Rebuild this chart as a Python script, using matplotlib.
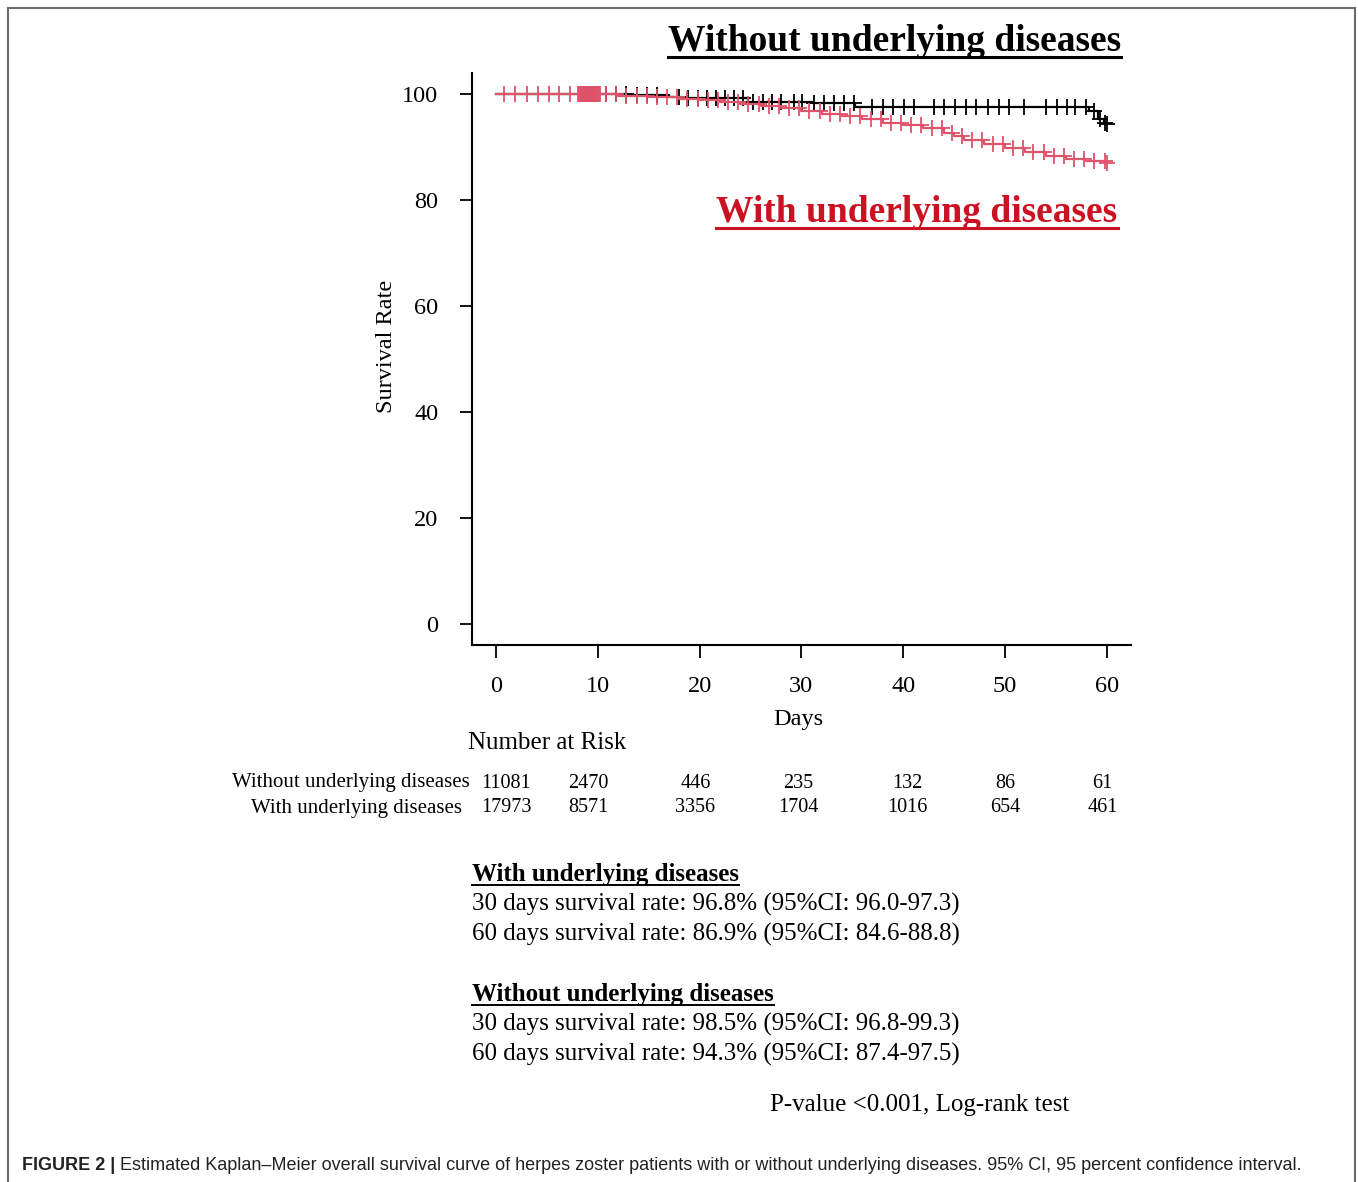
import matplotlib
matplotlib.use('Agg')
import matplotlib.pyplot as plt
from matplotlib.lines import Line2D
import numpy as np

plt.rcParams['font.family'] = 'Liberation Serif'
plt.rcParams['axes.linewidth'] = 1.5

W, H = 1358, 1182
RED = '#DF536B'
TITLE_RED = '#CC1122'

# Kaplan-Meier step curves (day, survival %)
without_t = [0, 10.5, 13.0, 17.0, 18.2, 24.8, 31.0, 35.3, 58.3, 59.2, 59.7, 60.0]
without_s = [100, 99.9, 99.7, 99.5, 99.25, 98.5, 98.2, 97.5, 96.7, 95.2, 94.5, 94.3]

with_t = [0, 8, 12, 15, 18, 20, 22, 24, 26, 28, 30, 32, 34, 36, 38, 40, 42, 44, 45,
          46, 48, 50, 52, 54, 56, 58, 60]
with_s = [100, 99.9, 99.6, 99.4, 99.1, 98.8, 98.5, 98.1, 97.7, 97.3, 96.8, 96.3,
          95.8, 95.2, 94.6, 94.1, 93.5, 92.6, 92.0, 91.3, 90.5, 89.7, 89.0, 88.3,
          87.8, 87.3, 86.9]

# censoring times
without_cens = [8.6, 8.8, 9.0, 9.2, 9.4, 9.6, 10.8, 11.8, 12.8, 13.8, 14.8, 15.8,
                18.0, 18.9, 19.8, 20.7, 21.6, 22.5, 23.4, 24.3, 25.2, 26.2, 27.1,
                28.0, 29.3, 30.1, 31.2, 32.2, 33.2, 34.2, 35.2, 36.9, 38.0, 39.0,
                40.1, 41.1, 43.0, 44.0, 45.1, 46.2, 47.2, 48.3, 49.4, 50.4, 51.9,
                54.0, 55.1, 56.1, 56.9, 58.0, 58.8, 59.4, 59.8, 60.0]
with_cens = [0.8, 1.9, 3.0, 4.1, 5.2, 6.2, 7.3,
             8.0, 8.1, 8.2, 8.3, 8.4, 8.5, 8.6, 8.7, 8.8, 8.9, 9.0, 9.1, 9.2,
             9.3, 9.4, 9.5, 9.6, 9.7, 9.8, 9.9, 10.0, 10.1, 10.2,
             10.8, 11.8, 12.8, 13.8, 14.8, 15.8, 16.8, 17.8, 18.8, 19.8, 20.8,
             21.8, 22.8, 23.8, 24.8, 25.8, 26.8, 27.8, 28.8, 29.8, 30.8, 31.8,
             32.8, 33.8, 34.8, 35.8, 36.8, 37.8, 38.8, 39.8, 40.8, 41.8, 42.8,
             43.8, 44.8, 45.8, 46.8, 47.8, 48.8, 49.8, 50.8, 51.8, 52.8, 53.8,
             54.8, 55.8, 56.8, 57.8, 58.8, 59.8, 60.0]

# number at risk table
risk_days = [0, 10, 20, 30, 40, 50, 60]
risk_xpos = [1.0, 9.1, 19.6, 29.7, 40.4, 50.0, 59.6]
risk_without = [11081, 2470, 446, 235, 132, 86, 61]
risk_with = [17973, 8571, 3356, 1704, 1016, 654, 461]

summary_with = ['30 days survival rate: 96.8% (95%CI: 96.0-97.3)',
                '60 days survival rate: 86.9% (95%CI: 84.6-88.8)']
summary_without = ['30 days survival rate: 98.5% (95%CI: 96.8-99.3)',
                   '60 days survival rate: 94.3% (95%CI: 87.4-97.5)']


def step_value(times, surv, x):
    idx = np.searchsorted(times, x, side='right') - 1
    return np.asarray(surv)[idx]


def fx(px):
    return px / W


def fy(py):
    return 1 - py / H


fig = plt.figure(figsize=(W / 100, H / 100), dpi=100)
ax = fig.add_axes([fx(471.7), fy(645), fx(1131) - fx(471.7), fy(72.7) - fy(645)])

ax.step(without_t, without_s, where='post', color='black', lw=1.6, zorder=3)
ax.step(with_t, with_s, where='post', color=RED, lw=1.6, zorder=4)
ax.plot(without_cens, step_value(without_t, without_s, without_cens), ls='none',
        marker='+', ms=11.5, mew=1.3, color='black', zorder=3)
ax.plot(with_cens, step_value(with_t, with_s, with_cens), ls='none',
        marker='+', ms=11.5, mew=1.3, color=RED, zorder=4)

ax.set_xlim(-2.4, 62.4)
ax.set_ylim(-4, 104)
ax.set_xticks(risk_days)
ax.set_yticks([0, 20, 40, 60, 80, 100])
ax.spines['top'].set_visible(False)
ax.spines['right'].set_visible(False)
ax.tick_params(direction='out', length=9, width=1.3, labelsize=17.5, pad=13)
ax.tick_params(axis='y', pad=15)

fig.text(fx(798), fy(720), 'Days', ha='center', va='center', fontsize=17.5)
fig.text(fx(387), fy(346), 'Survival Rate', ha='center', va='center',
         rotation=90, fontsize=17.5)

# curve titles
fig.canvas.draw()
renderer = fig.canvas.get_renderer()


def underlined(x, y_base, s, ha, size, color, weight='bold', gap=6, lw=1.6):
    t = fig.text(fx(x), fy(y_base), s, ha=ha, va='baseline', fontsize=size,
                 color=color, fontweight=weight)
    bb = t.get_window_extent(renderer=renderer)
    yl = fy(y_base + gap)
    fig.add_artist(Line2D([bb.x0 / W, bb.x1 / W], [yl, yl], color=color, lw=lw))
    return t


underlined(894.5, 51, 'Without underlying diseases', 'center', 27, 'black', lw=2.2)
underlined(917, 222, 'With underlying diseases', 'center', 27, TITLE_RED, lw=2.2)

# number at risk
fig.text(fx(468), fy(743), 'Number at Risk', ha='left', va='center', fontsize=18)
fig.text(fx(470), fy(783), 'Without underlying diseases', ha='right', va='center',
         fontsize=15)
fig.text(fx(462), fy(808), 'With underlying diseases', ha='right', va='center',
         fontsize=15)
for xp, a, b in zip(risk_xpos, risk_without, risk_with):
    xd = fx(ax.transData.transform((xp, 0))[0])
    fig.text(xd, fy(783), str(a), ha='center', va='center', fontsize=14.5)
    fig.text(xd, fy(808), str(b), ha='center', va='center', fontsize=14.5)

# survival summaries
underlined(472, 881, 'With underlying diseases', 'left', 18, 'black', gap=4, lw=1.4)
for i, s in enumerate(summary_with):
    fig.text(fx(472), fy(904 + 30 * i), s, ha='left', va='center', fontsize=18)
underlined(472, 1001, 'Without underlying diseases', 'left', 18, 'black', gap=4, lw=1.4)
for i, s in enumerate(summary_without):
    fig.text(fx(472), fy(1024 + 30 * i), s, ha='left', va='center', fontsize=18)
fig.text(fx(770), fy(1105), 'P-value <0.001, Log-rank test', ha='left',
         va='center', fontsize=18)

# frame around the figure panel
frame_col = '#6b6b6b'
fig.add_artist(Line2D([fx(8), fx(1355)], [fy(8), fy(8)], color=frame_col, lw=1.5))
fig.add_artist(Line2D([fx(8), fx(8)], [fy(8), 0], color=frame_col, lw=1.5))
fig.add_artist(Line2D([fx(1355), fx(1355)], [fy(8), 0], color=frame_col, lw=1.5))

# caption
cap_font = ['Liberation Sans Narrow', 'Liberation Sans']
c1 = fig.text(fx(22), fy(1166), 'FIGURE 2 |', ha='left', va='center', fontsize=13,
              fontweight='bold', color='#222222', family=cap_font)
bb = c1.get_window_extent(renderer=renderer)
fig.text(bb.x1 / W + fx(5), fy(1166),
         'Estimated Kaplan\u2013Meier overall survival curve of herpes zoster patients '
         'with or without underlying diseases. 95% CI, 95 percent confidence interval.',
         ha='left', va='center', fontsize=13, color='#222222', family=cap_font)

fig.savefig('out.png', dpi=100)
